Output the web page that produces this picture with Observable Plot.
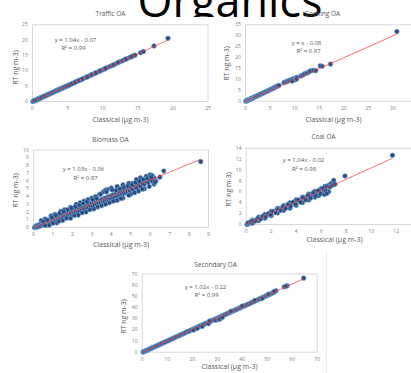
<!DOCTYPE html>
<html><head><meta charset="utf-8">
<script src="https://cdn.jsdelivr.net/npm/d3@7"></script>
<script src="https://cdn.jsdelivr.net/npm/@observablehq/plot@0.6"></script>
<style>
html,body{margin:0;padding:0;background:#fff;width:411px;height:373px;overflow:hidden;}
#root{position:relative;width:411px;height:373px;overflow:hidden;}
#edge{position:absolute;left:326px;top:250px;width:1px;height:123px;background:#ececec;}
</style></head><body><div id="root"><div id="edge"></div></div>
<script>
// ---------- data ----------
const pageTitle = "Organics";
const titles = ["Traffic OA", "Cooking OA", "Biomass OA", "Coal OA", "Secondary OA"];
const equations = ["y = 1.04x - 0.07", "y = x - 0.08", "y = 1.03x - 0.06", "y = 1.04x - 0.02", "y = 1.02x - 0.22"];
const r2Labels = ["R² = 0.99", "R² = 0.97", "R² = 0.97", "R² = 0.98", "R² = 0.99"];
const slopes = [1.04, 1, 1.03, 1.04, 1.02];
const intercepts = [-0.07, -0.08, -0.06, -0.02, -0.22];
const xLabel = "Classical (µg m-3)";
const yLabel = "RT ng m-3)";
const xTicks = [[0,5,10,15,20,25],[0,5,10,15,20,25,30],[0,1,2,3,4,5,6,7,8,9],[0,2,4,6,8,10,12],[0,10,20,30,40,50,60,70]];
const yTicks = [[0,5,10,15,20,25],[0,5,10,15,20,25,30,35],[0,1,2,3,4,5,6,7,8,9,10],[0,2,4,6,8,10,12,14],[0,10,20,30,40,50,60,70]];

const traffic = [[0.05,0.0],[0.1,0.05],[0.2,0.15],[0.3,0.25],[0.4,0.35],[0.5,0.45],[0.6,0.55],[0.7,0.68],[0.8,0.78],[0.9,0.85],[1.0,1.0],[1.2,1.2],[1.4,1.4],[1.5,1.5],[1.7,1.7],[1.9,1.9],[2.0,2.05],[2.2,2.2],[2.4,2.45],[2.6,2.65],[2.8,2.85],[3.0,3.05],[3.2,3.3],[3.4,3.5],[3.6,3.7],[3.8,3.9],[4.0,4.1],[4.2,4.3],[4.4,4.5],[4.6,4.75],[4.8,4.95],[5.0,5.1],[5.3,5.45],[5.5,5.65],[5.8,5.95],[6.0,6.2],[6.3,6.5],[6.5,6.7],[6.8,7.0],[7.0,7.2],[7.3,7.55],[7.6,7.85],[7.9,8.15],[8.2,8.45],[8.5,8.8],[8.8,9.1],[9.1,9.4],[9.4,9.7],[9.7,10.05],[10.0,10.35],[10.3,10.65],[10.6,11.0],[11.0,11.4],[11.3,11.7],[11.7,12.1],[12.0,12.45],[12.4,12.9],[12.8,13.25],[13.1,13.6],[13.5,14.0],[13.9,14.4],[14.3,14.85],[14.6,15.1],[15.4,15.9],[15.8,16.3],[17.3,18.1],[19.3,20.6],
  [0.25,0.3],[0.55,0.5],[0.85,0.9],[1.1,1.1],[1.3,1.35],[1.6,1.6],[1.8,1.85],[2.1,2.1],[2.3,2.4],[2.5,2.55],[2.7,2.75],[2.9,3.0],[3.1,3.2],[3.3,3.4],[3.5,3.6],[3.7,3.85],[3.9,4.0],[4.1,4.25],[4.3,4.4],[4.5,4.65],[4.7,4.85],[4.9,5.05],[5.2,5.3],[5.6,5.8],[6.1,6.3],[6.6,6.85],[7.1,7.35],[7.8,8.0],[8.4,8.7],[9.0,9.3],[9.6,9.95],[10.4,10.8],[11.5,11.9],[12.2,12.7],[13.3,13.8],[14.1,14.6]];

const cooking = [[0.05,0.0],[0.1,0.1],[0.2,0.15],[0.3,0.3],[0.4,0.35],[0.5,0.5],[0.6,0.55],[0.7,0.7],[0.8,0.75],[0.9,0.9],[1.0,1.0],[1.1,1.1],[1.2,1.2],[1.3,1.3],[1.4,1.45],[1.5,1.5],[1.6,1.6],[1.7,1.75],[1.8,1.8],[1.9,1.95],[2.0,2.1],[2.2,2.2],[2.4,2.45],[2.6,2.7],[2.8,2.9],[3.0,3.1],[3.2,3.35],[3.4,3.5],[3.6,3.75],[3.8,3.9],[4.0,4.2],[4.2,4.4],[4.4,4.6],[4.6,4.8],[4.8,5.0],[5.0,5.3],[5.2,5.4],[5.4,5.7],[5.6,5.9],[5.8,6.1],[6.0,6.3],[6.2,6.6],[6.4,6.8],[6.6,7.0],[6.8,7.2],
  [7.8,8.5],[8.1,8.8],[8.4,9.0],[8.7,9.3],[9.0,9.6],[9.3,9.9],[9.6,10.1],[9.9,10.4],[10.2,10.6],[10.5,10.9],[10.1,9.8],[9.5,9.2],[10.4,10.2],
  [11.3,11.6],[11.7,12.0],[12.0,12.5],[12.4,12.8],[12.7,13.1],[13.0,13.6],[13.3,13.9],[13.8,14.1],[14.3,14.0],
  [15.2,16.2],[15.6,16.0],[17.3,17.0],[30.8,31.9]];

const biomass = [[0.05,0.0],[0.1,0.15],[0.15,0.05],[0.2,0.3],[0.25,0.1],[0.3,0.35],[0.35,0.2],[0.4,0.5],[0.45,0.3],[0.5,0.6],[0.55,0.35],[0.6,0.7],[0.65,0.45],[0.7,0.8],[0.75,0.55],[0.8,0.95],[0.85,0.6],[0.9,1.0],[0.95,0.75],[1.0,1.2],[1.05,0.8],[1.1,1.2],[1.15,0.9],[1.2,1.35],[1.25,1.0],[1.3,1.5],[1.35,1.1],[1.4,1.6],[1.45,1.2],[1.5,1.65],[1.55,1.3],[1.6,1.8],[1.65,1.4],[1.7,1.9],[1.75,1.5],[1.8,2.0],[1.85,1.6],[1.9,2.1],[1.95,1.7],[2.0,2.2],[2.05,1.8],[2.1,2.35],[2.15,1.9],[2.2,2.4],[2.25,2.0],[2.3,2.5],[2.35,2.1],[2.4,2.6],[2.45,2.2],[2.5,2.7],[2.55,2.3],[2.6,2.8],[2.65,2.4],[2.7,2.9],[2.75,2.5],[2.8,3.0],[2.85,2.6],[2.9,3.05],[2.95,2.7],[3.0,3.15],[3.05,2.8],[3.1,3.2],[3.15,2.9],[3.2,3.3],[3.25,3.0],[3.3,3.4],[3.35,3.1],[3.4,3.5],[3.45,3.2],[3.5,3.6],[3.55,3.3],[3.6,3.7],[3.65,3.4],[3.7,3.8],[3.75,3.5],[3.8,3.9],[3.85,3.6],[3.9,4.0],[3.95,3.7],[4.0,4.1],[4.05,3.8],[4.1,4.2],[4.15,3.9],[4.2,4.3],[4.25,4.0],[4.3,4.4],[4.35,4.1],[4.4,4.55],[4.45,4.2],[4.5,4.6],[4.55,4.3],[4.6,4.75],[4.65,4.4],[4.7,4.85],[4.75,4.5],[4.8,4.95],[4.85,4.6],[4.9,5.05],[4.95,4.7],[5.0,5.1],[5.1,4.9],[5.2,5.3],[5.3,5.1],[5.4,5.5],[5.5,5.3],[5.6,5.7],[5.7,5.6],[5.8,5.9],[5.9,5.8],[6.0,6.1],[6.1,6.0],[6.2,6.4],
  [0.4,0.9],[0.6,1.1],[0.9,1.5],[1.1,1.7],[1.4,2.1],[1.6,2.3],[1.9,2.6],[2.2,3.0],[2.4,3.2],[2.6,3.4],[2.8,3.6],[3.0,3.8],[3.2,4.0],[3.4,4.3],[3.6,4.6],[3.8,4.9],[3.7,4.8],[4.0,5.1],[4.3,5.3],[4.6,5.5],[4.9,5.7],[5.1,5.7],[5.3,6.2],[5.5,6.4],[5.8,6.6],[6.0,6.8],[6.1,6.7],[6.3,6.0],[6.5,6.5],
  [0.8,0.3],[1.2,0.6],[1.5,0.9],[1.9,1.2],[2.3,1.6],[2.7,2.0],[3.1,2.4],[3.5,2.8],[3.9,3.2],[4.3,3.5],[4.6,3.8],[5.0,4.3],[5.4,4.7],[5.7,5.0],[6.2,5.6],
  [0.5,0.75],[0.7,0.95],[0.95,1.3],[1.15,1.55],[1.35,1.85],[1.55,2.05],[1.75,2.3],[1.95,2.5],[2.15,2.7],[2.35,2.9],[2.55,3.1],[2.75,3.3],[3.05,3.6],[3.25,3.75],[3.45,4.3],[3.75,4.6],[4.05,4.85],[4.25,4.8],[4.45,5.0],[4.65,5.2],[4.85,5.35],[5.05,5.5],[5.25,5.8],[5.45,6.0],[5.65,6.2],[5.85,6.35],[6.05,6.5],
  [0.6,0.25],[1.0,0.55],[1.3,0.8],[1.7,1.2],[2.1,1.55],[2.5,1.9],[2.9,2.3],[3.3,2.65],[3.7,3.0],[4.1,3.4],[4.5,3.75],[4.9,4.15],[5.2,4.5],[5.6,4.95],[5.95,5.3],[6.25,5.85],
  [6.7,7.3],[8.6,8.5]];

const coal = [[0.05,0.0],[0.1,0.1],[0.2,0.15],[0.3,0.3],[0.4,0.4],[0.5,0.5],[0.6,0.6],[0.7,0.7],[0.8,0.85],[0.9,0.9],[1.0,1.05],[1.1,1.1],[1.2,1.25],[1.3,1.3],[1.4,1.45],[1.5,1.55],[1.6,1.65],[1.7,1.75],[1.8,1.9],[1.9,1.95],[2.0,2.1],[2.1,2.2],[2.2,2.3],[2.3,2.4],[2.4,2.5],[2.5,2.6],[2.6,2.75],[2.7,2.8],[2.8,2.95],[2.9,3.0],[3.0,3.15],[3.1,3.2],[3.2,3.35],[3.3,3.4],[3.4,3.55],[3.5,3.6],[3.6,3.75],[3.7,3.85],[3.8,3.95],[3.9,4.05],[4.0,4.2],[4.1,4.25],[4.2,4.4],[4.3,4.45],[4.4,4.6],[4.5,4.7],[4.6,4.8],[4.7,4.9],[4.8,5.0],[4.9,5.1],[5.0,5.25],[5.1,5.3],[5.2,5.45],[5.3,5.5],[5.4,5.65],[5.5,5.7],[5.6,5.85],[5.7,5.95],[5.8,6.05],[5.9,6.15],[6.0,6.3],[6.1,6.4],[6.2,6.5],[6.3,6.6],[6.4,6.7],[6.5,6.9],
  [0.5,0.8],[1.0,1.35],[1.5,1.85],[2.0,2.4],[2.5,2.95],[3.0,3.5],[3.5,4.0],[4.0,4.55],[4.5,5.05],[5.0,5.6],[5.5,6.1],[6.0,6.6],[6.3,7.0],[6.6,7.2],[6.8,7.5],[7.0,8.1],[7.9,8.9],
  [0.5,0.25],[1.0,0.7],[1.5,1.15],[2.0,1.6],[2.5,2.1],[3.0,2.6],[3.5,3.0],[4.0,3.5],[4.5,4.0],[5.0,4.5],[5.5,5.0],[5.8,5.3],[6.2,5.8],[6.5,6.2],[6.6,6.0],
  [0.15,0.3],[0.35,0.5],[0.55,0.7],[0.75,0.65],[0.95,1.15],[1.15,1.0],[1.35,1.55],[1.55,1.4],[1.75,1.95],[1.95,1.8],[2.15,2.4],[2.35,2.2],[2.55,2.8],[2.75,2.6],[2.95,3.25],[3.15,2.95],[3.35,3.7],[3.55,3.35],[3.75,4.1],[3.95,3.7],[4.15,4.5],[4.35,4.1],[4.55,4.95],[4.75,4.5],[4.95,5.35],[5.15,4.85],[5.35,5.8],[5.55,5.25],[5.75,6.2],[5.95,5.65],[6.15,6.65],[6.35,6.1],[6.45,7.0],[6.7,6.9],[6.9,7.2],[7.1,7.4],[6.25,5.5],[6.45,5.7],
  [11.7,12.7]];

const secondary = [[0.3,0.1],[0.6,0.4],[1.0,0.8],[1.4,1.2],[1.8,1.6],[2.2,2.0],[2.6,2.5],[3.0,2.9],[3.5,3.3],[4.0,3.9],[4.5,4.4],[5.0,4.9],[5.6,5.5],[6.2,6.1],[6.8,6.7],[7.4,7.4],[8.0,7.9],[8.6,8.6],[9.2,9.1],[9.8,9.8],[10.4,10.3],[11.0,11.0],[11.6,11.6],[12.2,12.3],[12.8,12.8],[13.4,13.5],[14.0,14.1],[14.6,14.7],[15.2,15.3],[15.8,16.0],[16.4,16.5],[17.0,17.2],[17.6,17.8],[18.2,18.4],[18.8,19.0],[19.4,19.7],[20.0,20.2],[20.6,20.8],[21.2,21.4],[21.8,22.0],[22.4,22.7],[23.0,23.3],[23.6,23.9],[24.2,24.5],[24.8,25.1],[25.4,25.8],[26.0,26.3],[26.6,27.0],[27.2,27.5],[27.8,28.2],[28.4,28.8],[29.0,29.4],[29.6,30.0],[30.2,30.6],[30.8,31.2],[31.4,31.8],[32.0,32.5],[32.6,33.0],[33.2,33.7],[33.8,34.3],[34.4,34.9],[35.0,35.5],[35.6,36.1],[36.2,36.7],[36.8,37.4],[37.4,38.0],[38.0,38.5],[38.6,39.2],[39.2,39.8],[39.8,40.4],[40.4,41.0],[41.0,41.6],[41.6,42.2],[42.2,42.8],[42.8,43.4],[43.4,44.0],[44.0,44.7],[44.6,45.3],[45.2,45.9],[45.8,46.5],[46.4,47.1],[47.0,47.7],[47.6,48.3],[48.2,49.0],[48.8,49.6],[49.4,50.2],[50.0,50.8],[50.6,51.4],[51.2,52.0],[51.8,52.7],[52.4,53.3],[53.0,54.0],[53.5,55.0],[52.8,54.4],
  [20.5,19.8],[22.0,21.2],[24.0,23.1],[26.5,25.5],[27.0,27.9],[29.5,28.6],[30.5,29.6],[31.0,29.5],[32.0,31.0],[35.5,36.6],[40.0,41.3],[45.0,46.2],[50.5,51.9],[48.0,48.2],
  [56.8,58.5],[58.0,59.5],[57.5,59.0],[64.6,66.3]];

const datasets = [traffic, cooking, biomass, coal, secondary];
const xMax = [25, 35, 9, 14, 70];
const yMax = [25, 35, 10, 14, 70];

// ---------- layout (page pixel coordinates) ----------
const W = 430, H = 373;
const FONT = "'Open Sans', sans-serif";
const frames = [
  {l:32, r:207.5, t:24.3, b:101},
  {l:245, r:417, t:24.3, b:100.7},
  {l:33, r:208, t:149.5, b:227},
  {l:245.7, r:420.7, t:147.7, b:224},
  {l:141.7, r:316.7, t:273.5, b:351.7}
];
const titlePos = [[110,13.5],[322,13.5],[110,139],[323,136],[215,264]];
const eqPos = [[75,39.3],[306,42.3],[83,169],[303,160],[205,286.7]];
const r2Pos = [[73,47.3],[308,50.7],[85,177.3],[303.5,168.3],[206,295]];
const xLabPos = [[120,119],[333,119],[120.5,244],[334,239],[229,366.5]];
const yLabPos = [[15,67],[226,63],[15,190],[228,189],[123,316]];

const root = document.getElementById("root");

// page title (its lower part is hidden behind the chart images)
const head = d3.create("svg").attr("width", 411).attr("height", 17)
  .style("position","absolute").style("left","0").style("top","0").style("overflow","hidden");
head.append("text").attr("x", 230).attr("y", 16.5).attr("text-anchor","middle")
  .attr("font-family", FONT).attr("font-size", 45).attr("fill", "#000").text(pageTitle);
root.appendChild(head.node());

function panel(i) {
  const f = frames[i];
  const pts = datasets[i];
  const xs = pts.map(d => d[0]);
  const trend = [d3.min(xs), d3.max(xs)].map(x => ({x, y: slopes[i] * x + intercepts[i]}));
  const at = p => ({frameAnchor: "top-left", dx: p[0] - f.l, dy: p[1] - f.t});
  const txt = (s, p, o) => Plot.text([s], {text: d => d, ...at(p), textAnchor: "middle", lineAnchor: "middle", fontFamily: FONT, ...o});
  return Plot.plot({
    width: W, height: H,
    marginLeft: f.l, marginRight: W - f.r, marginTop: f.t, marginBottom: H - f.b,
    style: {background: "transparent", maxWidth: "none", overflow: "visible", fontFamily: FONT, fontSize: "5px", color: "#808080", position: "absolute", left: "0", top: "0"},
    x: {domain: [0, xMax[i]], ticks: xTicks[i], tickSize: 0, tickPadding: 5, label: null},
    y: {domain: [0, yMax[i]], ticks: yTicks[i], tickSize: 0, tickPadding: 4.7, label: null},
    marks: [
      Plot.frame({stroke: "#d9d9d9"}),
      Plot.dot(pts, {x: d => d[0], y: d => d[1], r: 2.3, fill: "#2a4a78", stroke: "#6a9fd4", strokeWidth: 0.7}),
      Plot.line(trend, {x: "x", y: "y", stroke: "#ff3030", strokeWidth: 0.8, strokeDasharray: "1.2,1"}),
      txt(titles[i], titlePos[i], {fontSize: 6.5, fill: "#595959"}),
      txt(equations[i], eqPos[i], {fontSize: 6, fill: "#595959"}),
      txt(r2Labels[i], r2Pos[i], {fontSize: 6, fill: "#595959"}),
      txt(xLabel, xLabPos[i], {fontSize: 7, fill: "#595959"}),
      txt(yLabel, yLabPos[i], {fontSize: 7, fill: "#595959", rotate: -90})
    ]
  });
}

for (let i = 0; i < 5; i++) root.appendChild(panel(i));
</script></body></html>
